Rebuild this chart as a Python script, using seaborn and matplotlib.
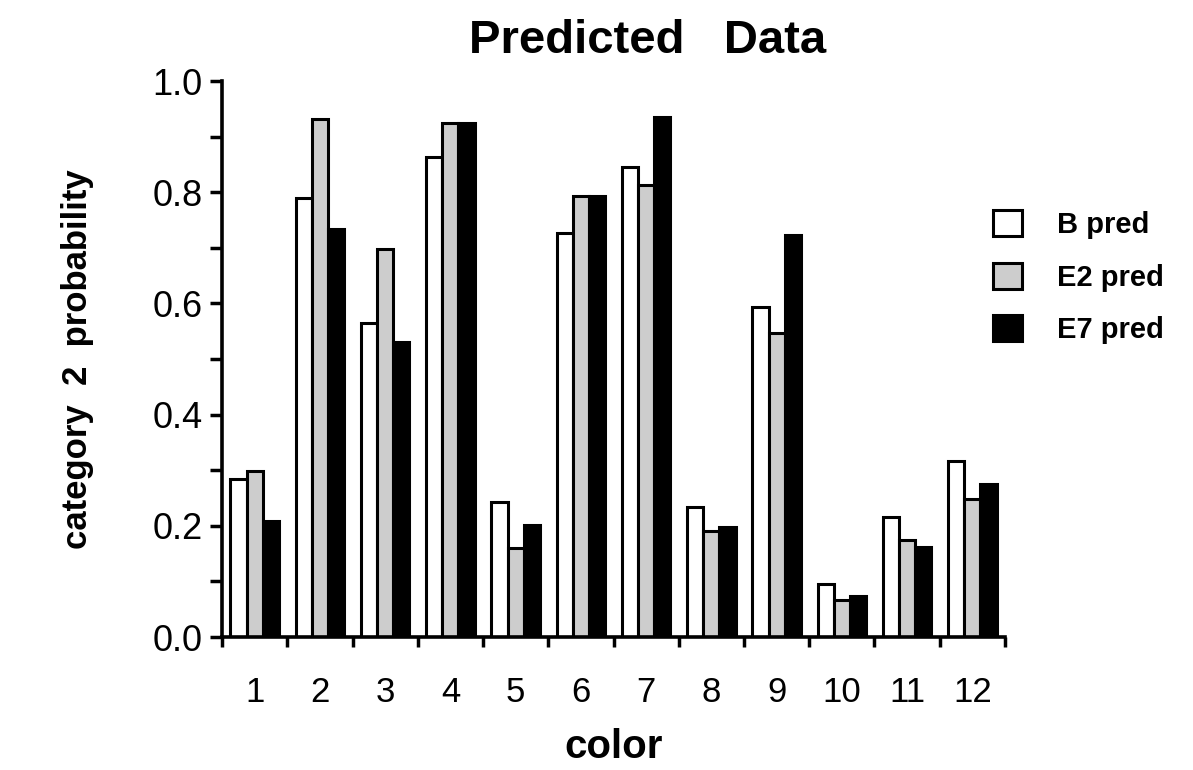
import numpy as np
import pandas as pd
import matplotlib
matplotlib.use("Agg")
import matplotlib.pyplot as plt
import seaborn as sns
from matplotlib.patches import Patch

colors_cat = ["1", "2", "3", "4", "5", "6", "7", "8", "9", "10", "11", "12"]
series_names = ["B pred", "E2 pred", "E7 pred"]
b_pred = [0.284, 0.789, 0.565, 0.863, 0.242, 0.726, 0.846, 0.233, 0.593, 0.095, 0.216, 0.317]
e2_pred = [0.299, 0.931, 0.698, 0.924, 0.160, 0.793, 0.813, 0.191, 0.547, 0.067, 0.174, 0.248]
e7_pred = [0.209, 0.734, 0.530, 0.924, 0.201, 0.793, 0.936, 0.198, 0.723, 0.074, 0.162, 0.275]
y_ticks = [0.0, 0.2, 0.4, 0.6, 0.8, 1.0]

df = pd.DataFrame({
    "color": colors_cat * 3,
    "series": [series_names[0]] * 12 + [series_names[1]] * 12 + [series_names[2]] * 12,
    "prob": b_pred + e2_pred + e7_pred,
})

sns.set_style("ticks")
plt.rcParams["font.family"] = ["Liberation Sans", "DejaVu Sans"]
plt.rcParams.update({
    "text.color": "black", "axes.labelcolor": "black", "xtick.color": "black",
    "ytick.color": "black", "axes.edgecolor": "black",
})

fills = ["white", "#cdcdcd", "black"]

fig = plt.figure(figsize=(11.93, 7.70), dpi=100)
ax = fig.add_axes([0.1861, 0.1727, 0.6563, 0.7221])

sns.barplot(data=df, x="color", y="prob", hue="series", order=colors_cat,
            hue_order=series_names, palette=fills, width=0.74,
            edgecolor="black", linewidth=2.2, saturation=1, ax=ax, legend=False)

ax.set_xlim(-0.5, 11.5)
ax.set_ylim(0, 1.0)
ax.set_yticks(y_ticks)
ax.set_yticklabels([f"{v:.1f}" for v in y_ticks], fontsize=26)
ax.set_yticks(np.arange(0.1, 1.0, 0.2), minor=True)
ax.set_xticks(range(12))
ax.set_xticklabels(colors_cat, fontsize=25)
ax.set_xticks(np.arange(-0.5, 12, 1.0), minor=True)
ax.tick_params(axis="x", which="major", length=0, pad=28)
ax.tick_params(axis="x", which="minor", length=7, width=2.5, direction="out")
ax.tick_params(axis="y", which="both", length=9, width=2.5, direction="out", pad=5)

for s in ["top", "right"]:
    ax.spines[s].set_visible(False)
for s in ["left", "bottom"]:
    ax.spines[s].set_linewidth(2.6)

ax.set_xlabel("color", fontsize=29, fontweight="bold", labelpad=14)
ax.set_ylabel("category  2  probability", fontsize=25, fontweight="bold", labelpad=42)

fig.text(0.543, 0.947, "Predicted   Data", ha="center", va="center",
         fontsize=34, fontweight="bold")

handles = [Patch(facecolor=fills[i], edgecolor="black", linewidth=2.2) for i in range(3)]
leg = fig.legend(handles, series_names, loc="upper left", bbox_to_anchor=(0.832, 0.727),
                 frameon=False, prop={"size": 21, "weight": "bold"},
                 handlelength=1.0, handleheight=1.0, labelspacing=0.8, handletextpad=1.2,
                 borderpad=0, borderaxespad=0)

fig.savefig("out.png", dpi=100)
